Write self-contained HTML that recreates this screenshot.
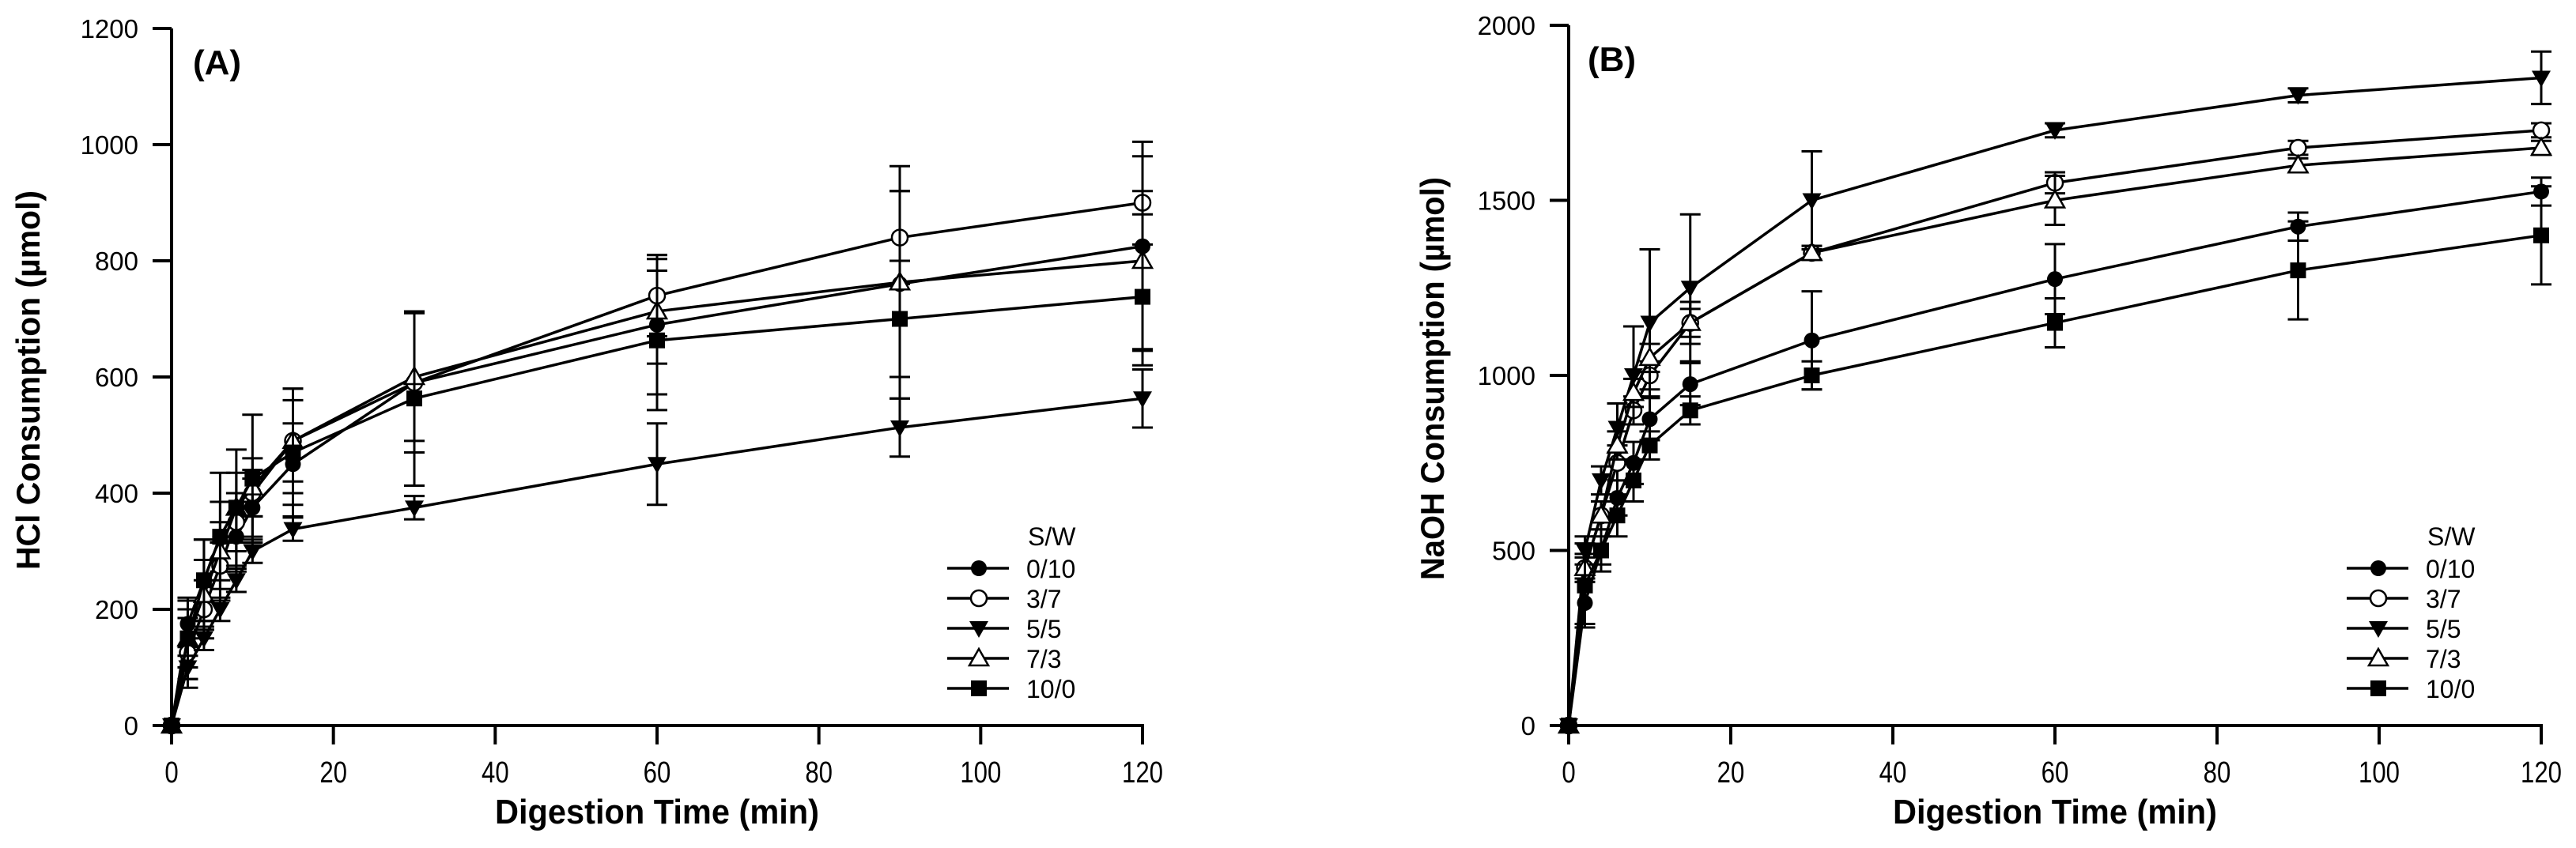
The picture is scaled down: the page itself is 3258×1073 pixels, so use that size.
<!DOCTYPE html>
<html><head><meta charset="utf-8"><style>
html,body{margin:0;padding:0;background:#fff}
svg{display:block}
text{font-family:"Liberation Sans",Arial,sans-serif;fill:#000}
</style></head><body>
<svg id="chart" width="3258" height="1073" viewBox="0 0 3258 1073" xmlns="http://www.w3.org/2000/svg"></svg>
<script>
const times = [0,2,4,6,8,10,15,30,60,90,120];
const seriesNames = ["0/10","3/7","5/5","7/3","10/0"];
const markers = ["circle","ocircle","tridown","otri","square"];
const xTicks = [0,20,40,60,80,100,120];
const yTicksA = [0,200,400,600,800,1000,1200];
const yTicksB = [0,500,1000,1500,2000];
const a010 = [0,175,250,325,325,375,450,590,690,760,825];
const a37  = [0,125,200,275,350,400,490,590,740,840,900];
const a55  = [0,100,150,200,250,300,338,375,450,513,563];
const a73  = [0,150,225,300,375,410,490,600,713,763,800];
const a100 = [0,150,250,325,375,425,470,563,663,700,738];
const ea010 = [0,40,70,60,60,50,70,120,120,160,180];
const ea37  = [0,60,50,40,50,40,70,120,70,80,20];
const ea55  = [0,20,20,20,20,20,20,20,70,50,50];
const ea73  = [0,50,60,50,60,50,90,110,90,200,180];
const ea100 = [0,70,70,110,100,110,110,150,120,100,90];
const b010 = [0,350,500,650,750,875,975,1100,1275,1425,1525];
const b37  = [0,450,600,750,900,1000,1150,1350,1550,1650,1700];
const b55  = [0,500,700,850,1000,1150,1250,1500,1700,1800,1850];
const b73  = [0,450,600,800,950,1050,1150,1350,1500,1600,1650];
const b100 = [0,400,500,600,700,800,900,1000,1150,1300,1400];
const eb010 = [0,60,40,50,60,60,60,140,100,40,40];
const eb37  = [0,30,40,50,40,40,40,20,30,20,20];
const eb55  = [0,40,40,70,140,210,210,140,20,20,75];
const eb73  = [0,40,40,40,40,40,60,20,70,20,20];
const eb100 = [0,120,60,60,60,40,40,40,70,140,140];

const NS="http://www.w3.org/2000/svg";
const svg=document.getElementById('chart');
function el(tag,attrs,parent){const e=document.createElementNS(NS,tag);for(const k in attrs)e.setAttribute(k,attrs[k]);(parent||svg).appendChild(e);return e;}

function panel(cfg){
  const g=el('g',{});
  
  
  const X=v=>cfg.x0+(v/120)*(cfg.x1-cfg.x0);
  const Y=v=>cfg.y0-(v/cfg.ymax)*(cfg.y0-cfg.y1);
  const ax=el('path',{d:`M${cfg.x0} ${cfg.y1}V${cfg.y0}H${cfg.x1+2}`,stroke:'#000','stroke-width':4,fill:'none'},g);
  
  
  xTicks.forEach(t=>{
    el('line',{x1:X(t),x2:X(t),y1:cfg.y0,y2:cfg.y0+24,stroke:'#000','stroke-width':4},g);
    const tx=el('text',{x:X(t),y:cfg.y0+72,'font-size':38,'text-anchor':'middle',transform:`translate(${X(t)} 0) scale(0.82 1) translate(${-X(t)} 0)`},g);
    tx.textContent=t;
    
    
  });
  cfg.yTicks.forEach(t=>{
    el('line',{x1:cfg.x0-24,x2:cfg.x0,y1:Y(t),y2:Y(t),stroke:'#000','stroke-width':4},g);
    const tx=el('text',{x:cfg.x0-42,y:Y(t)+12,'font-size':33,'text-anchor':'end'},g);
    tx.textContent=t;
    
    
  });
  const xt=el('text',{x:(cfg.x0+cfg.x1)/2,y:1042,'font-size':44,'font-weight':'bold','text-anchor':'middle',textLength:410,lengthAdjust:'spacingAndGlyphs'},g);
  xt.textContent='Digestion Time (min)';
  
  
  const yc=(cfg.y0+cfg.y1)/2+4;
  const yt=el('text',{x:0,y:0,'font-size':42,'font-weight':'bold','text-anchor':'middle',textLength:cfg.ylen,lengthAdjust:'spacingAndGlyphs',transform:`translate(${cfg.ytx} ${yc}) rotate(-90)`},g);
  yt.textContent=cfg.ytitle;
  
  
  const pl=el('text',{x:cfg.lx,y:cfg.ly,'font-size':44,'font-weight':'bold'},g);
  pl.textContent=cfg.label;
  
  

  cfg.data.forEach((vals,i)=>{
    const sg=el('g',{},g);
    
    
    const errs=cfg.errs[i];
    vals.forEach((v,j)=>{
      if(errs[j]>0){
        el('line',{x1:X(times[j]),x2:X(times[j]),y1:Y(v+errs[j]),y2:Y(v-errs[j]),stroke:'#000','stroke-width':3},sg);
        el('line',{x1:X(times[j])-13,x2:X(times[j])+13,y1:Y(v+errs[j]),y2:Y(v+errs[j]),stroke:'#000','stroke-width':3},sg);
        el('line',{x1:X(times[j])-13,x2:X(times[j])+13,y1:Y(v-errs[j]),y2:Y(v-errs[j]),stroke:'#000','stroke-width':3},sg);
      }
    });
    el('polyline',{points:vals.map((v,j)=>X(times[j])+','+Y(v)).join(' '),fill:'none',stroke:'#000','stroke-width':3.5},sg);
    vals.forEach((v,j)=>{
      const m=drawMarker(markers[i],X(times[j]),Y(v),sg);
      
      
    });
  });
  const lg=el('g',{},g);
  
  
  const lh=el('text',{x:cfg.legX+2,y:690,'font-size':32},lg);
  lh.textContent='S/W';
  seriesNames.forEach((n,i)=>{
    const yy=719+i*38;
    const en=el('g',{},lg);
    
    
    el('line',{x1:cfg.legX-100,x2:cfg.legX-22,y1:yy,y2:yy,stroke:'#000','stroke-width':3.5},en);
    drawMarker(markers[i],cfg.legX-60,yy,en);
    const t=el('text',{x:cfg.legX,y:yy+12,'font-size':32},en);
    t.textContent=(cfg.label==='(B)'&&n==='7/3')?' 7/3':n;
  });
}
function drawMarker(type,x,y,p){
  const r=10;
  if(type==='circle')return el('circle',{cx:x,cy:y,r:r,fill:'#000'},p);
  if(type==='ocircle')return el('circle',{cx:x,cy:y,r:r,fill:'#fff',stroke:'#000','stroke-width':2.5},p);
  if(type==='square')return el('rect',{x:x-r,y:y-r,width:2*r,height:2*r,fill:'#000'},p);
  if(type==='tridown')return el('polygon',{points:`${x-12},${y-9} ${x+12},${y-9} ${x},${y+12}`,fill:'#000'},p);
  return el('polygon',{points:`${x-12},${y+9} ${x+12},${y+9} ${x},${y-12}`,fill:'#fff',stroke:'#000','stroke-width':2.5},p);
}
panel({name:'panel-a-hcl',x0:217,x1:1445,y0:918,y1:36,ymax:1200,yTicks:yTicksA,
  data:[a010,a37,a55,a73,a100],errs:[ea010,ea37,ea55,ea73,ea100],
  ytitle:'HCl Consumption (µmol)',ytx:50,ylen:480,label:'(A)',lx:244,ly:94,legX:1298});
panel({name:'panel-b-naoh',x0:1984,x1:3214,y0:918,y1:32,ymax:2000,yTicks:yTicksB,
  data:[b010,b37,b55,b73,b100],errs:[eb010,eb37,eb55,eb73,eb100],
  ytitle:'NaOH Consumption (µmol)',ytx:1826,ylen:510,label:'(B)',lx:2008,ly:90,legX:3068});
</script>
</body></html>
